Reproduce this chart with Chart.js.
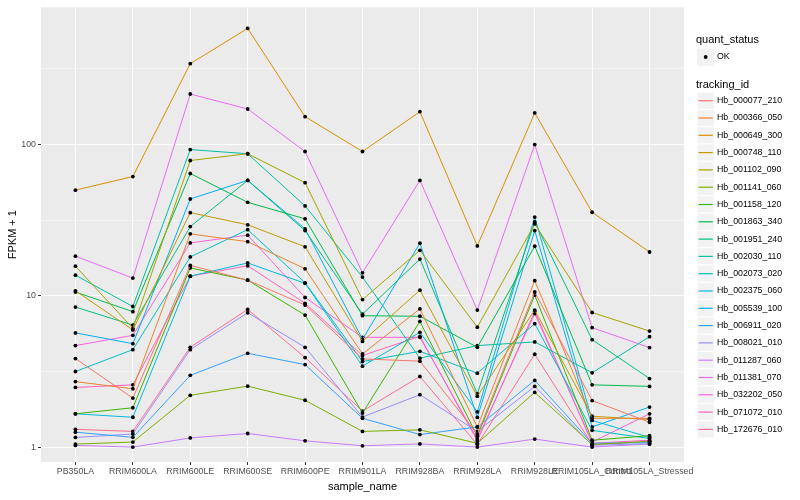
<!DOCTYPE html>
<html>
<head>
<meta charset="utf-8">
<script src="https://cdn.jsdelivr.net/npm/chart.js@4"></script>
<style>
  html, body { margin: 0; padding: 0; background: #fff; }
  #wrap { width: 800px; height: 500px; }
</style>
</head>
<body>
<div id="wrap"><canvas id="chart" width="800" height="500"></canvas></div>
<script>
const samples = ["PB350LA", "RRIM600LA", "RRIM600LE", "RRIM600SE", "RRIM600PE", "RRIM901LA",
  "RRIM928BA", "RRIM928LA", "RRIM928LE", "RRIM105LA_Control", "RRIM105LA_Stressed"];

const yTicks = [1, 10, 100];
const yMinorTicks = [3.1623, 31.623, 316.23];

// FPKM + 1 per tracking id, one value per sample
const hb_000077_210 = [3.85, 2.11, 15.9, 12.7, 8.7, 3.83, 3.7, 1.22, 10.6, 2.03, 1.46];
const hb_000366_050 = [2.71, 2.43, 25.7, 22.8, 15.1, 4.13, 8.2, 1.36, 12.6, 1.55, 1.55];
const hb_000649_300 = [50, 61.5, 343, 586, 153, 90, 165, 21.4, 162, 35.7, 19.5];
const hb_000748_110 = [10.8, 5.95, 35.5, 29.5, 21.1, 5.0, 10.9, 2.17, 8.05, 1.6, 1.52];
const hb_001102_090 = [15.7, 6.1, 78.5, 87, 56, 9.45, 20, 6.2, 29.9, 7.76, 5.85];
const hb_001141_060 = [1.047, 1.08, 2.2, 2.53, 2.04, 1.27, 1.3, 1.06, 2.3, 1.04, 1.09];
const hb_001158_120 = [1.66, 1.82, 15.3, 12.7, 7.46, 1.68, 6.77, 1.18, 10.1, 1.11, 1.19];
const hb_001863_340 = [10.6, 7.86, 64.4, 41.5, 32.3, 7.39, 7.33, 4.57, 21.3, 2.58, 2.52];
const hb_001951_240 = [8.43, 6.41, 28.7, 58, 27, 7.57, 17.5, 2.25, 30.8, 5.13, 2.84];
const hb_002030_110 = [13.7, 8.5, 92.7, 87, 39.3, 13.3, 3.87, 4.69, 4.96, 3.1, 5.37];
const hb_002073_020 = [3.16, 4.41, 18.1, 27.4, 12.2, 3.68, 4.3, 3.08, 6.55, 1.29, 1.14];
const hb_002375_060 = [1.66, 1.575, 13.5, 16.5, 12.1, 3.43, 5.74, 1.71, 33.2, 1.5, 1.16];
const hb_005539_100 = [5.69, 4.83, 43.7, 58, 27.7, 5.16, 22.3, 1.57, 27, 1.36, 1.84];
const hb_006911_020 = [1.255, 1.16, 2.98, 4.17, 3.51, 1.55, 1.21, 1.36, 2.76, 1.06, 1.07];
const hb_008021_010 = [1.158, 1.22, 4.41, 7.73, 4.57, 1.58, 2.22, 1.27, 2.52, 1.03, 1.05];
const hb_011287_060 = [1.026, 1.0, 1.15, 1.23, 1.1, 1.02, 1.05, 1.0, 1.13, 1.0, 1.05];
const hb_011381_070 = [18.3, 13.1, 216, 172, 90, 14.2, 58, 8.05, 100, 6.16, 4.55];
const hb_032202_050 = [4.69, 5.48, 22.4, 25.2, 9.75, 5.32, 5.32, 1.13, 7.64, 1.08, 1.66];
const hb_071072_010 = [2.48, 2.58, 13.5, 15.8, 8.93, 4.03, 5.4, 1.1, 7.9, 1.06, 1.11];
const hb_172676_010 = [1.31, 1.27, 4.57, 8.13, 3.91, 1.73, 2.93, 1.04, 4.11, 1.04, 1.09];

const trackingIds = ["Hb_000077_210", "Hb_000366_050", "Hb_000649_300", "Hb_000748_110",
  "Hb_001102_090", "Hb_001141_060", "Hb_001158_120", "Hb_001863_340", "Hb_001951_240",
  "Hb_002030_110", "Hb_002073_020", "Hb_002375_060", "Hb_005539_100", "Hb_006911_020",
  "Hb_008021_010", "Hb_011287_060", "Hb_011381_070", "Hb_032202_050", "Hb_071072_010",
  "Hb_172676_010"];

const series = [hb_000077_210, hb_000366_050, hb_000649_300, hb_000748_110, hb_001102_090,
  hb_001141_060, hb_001158_120, hb_001863_340, hb_001951_240, hb_002030_110, hb_002073_020,
  hb_002375_060, hb_005539_100, hb_006911_020, hb_008021_010, hb_011287_060, hb_011381_070,
  hb_032202_050, hb_071072_010, hb_172676_010];

// ggplot default hue palette, 20 levels
const colors = ["#F8766D", "#EA8331", "#D89000", "#C09B00", "#A3A500", "#7CAE00", "#39B600",
  "#00BB4E", "#00BF7D", "#00C1A3", "#00BFC4", "#00BAE0", "#00B0F6", "#35A2FF", "#9590FF",
  "#C77CFF", "#E76BF3", "#FA62DB", "#FF62BC", "#FF6C91"];

const FONT = '"Liberation Sans", Arial, sans-serif';

const datasets = series.map((vals, i) => ({
  label: trackingIds[i],
  data: vals.map((v, j) => ({ x: j, y: v })),
  borderColor: colors[i],
  borderWidth: 1,
  pointRadius: 1.9,
  pointBackgroundColor: "#000",
  pointBorderColor: "#000",
  pointBorderWidth: 0,
  tension: 0,
  fill: false,
}));

const panelBg = {
  id: "panelBg",
  beforeDraw(chart) {
    const { ctx, chartArea: a } = chart;
    ctx.save();
    ctx.fillStyle = "#EBEBEB";
    ctx.fillRect(a.left, a.top, a.right - a.left, a.bottom - a.top);
    ctx.restore();
  },
};

const ggLegend = {
  id: "ggLegend",
  afterDraw(chart) {
    const ctx = chart.ctx;
    const x0 = 697;
    const key = 17.3;
    ctx.save();
    ctx.textBaseline = "middle";
    ctx.fillStyle = "#000";
    ctx.font = "11px " + FONT;
    ctx.fillText("quant_status", 696, 40);

    ctx.fillStyle = "#F2F2F2";
    ctx.fillRect(x0, 48.5, key, key);
    ctx.fillStyle = "#000";
    ctx.beginPath();
    ctx.arc(x0 + key / 2, 57, 1.9, 0, Math.PI * 2);
    ctx.fill();
    ctx.font = "8.8px " + FONT;
    ctx.fillText("OK", 717, 57);

    ctx.font = "11px " + FONT;
    ctx.fillText("tracking_id", 696, 85);

    trackingIds.forEach((id, i) => {
      const yc = 100.7 + i * key;
      ctx.fillStyle = "#F2F2F2";
      ctx.fillRect(x0, yc - key / 2, key, key);
      ctx.strokeStyle = "#fff";
      ctx.lineWidth = 1;
      ctx.strokeRect(x0, yc - key / 2, key, key);
      ctx.strokeStyle = colors[i];
      ctx.lineWidth = 1.2;
      ctx.beginPath();
      ctx.moveTo(x0 + 1.5, yc);
      ctx.lineTo(x0 + key - 1.5, yc);
      ctx.stroke();
      ctx.fillStyle = "#000";
      ctx.font = "8.8px " + FONT;
      ctx.fillText(id, 717, yc);
    });
    ctx.restore();
  },
};

new Chart(document.getElementById("chart"), {
  type: "line",
  data: { datasets },
  plugins: [panelBg, ggLegend],
  options: {
    responsive: false,
    animation: false,
    layout: { padding: { top: 5, right: 116, left: 0, bottom: 0 } },
    plugins: { legend: { display: false }, tooltip: { enabled: false } },
    scales: {
      x: {
        type: "linear",
        min: -0.6,
        max: 10.6,
        afterBuildTicks: (scale) => {
          scale.ticks = samples.map((s, i) => ({ value: i }));
        },
        afterFit: (scale) => { scale.height = 38; },
        ticks: {
          autoSkip: false,
          maxRotation: 0,
          minRotation: 0,
          padding: 1,
          color: "#4D4D4D",
          font: { family: FONT, size: 8.8 },
          callback: (v) => samples[v],
        },
        grid: { color: "#fff", lineWidth: 1, tickLength: 3, tickColor: "#333" },
        border: { display: false },
        title: {
          display: true,
          text: "sample_name",
          color: "#000",
          font: { family: FONT, size: 11 },
          padding: { top: 0, bottom: 6 },
        },
      },
      y: {
        type: "logarithmic",
        min: 0.797,
        max: 809,
        afterBuildTicks: (scale) => {
          scale.ticks = yTicks.concat(yMinorTicks).sort((a, b) => a - b).map((v) => ({ value: v }));
        },
        afterFit: (scale) => { scale.width = 41; },
        ticks: {
          padding: 2,
          color: "#4D4D4D",
          font: { family: FONT, size: 8.8 },
          callback: (v) => (yTicks.includes(v) ? String(v) : ""),
        },
        grid: {
          color: "#fff",
          lineWidth: (c) => (c.tick && yTicks.includes(c.tick.value) ? 1 : 0.5),
          tickLength: 3,
          tickColor: (c) => (c.tick && yTicks.includes(c.tick.value) ? "#333" : "rgba(0,0,0,0)"),
        },
        border: { display: false },
        title: {
          display: true,
          text: "FPKM + 1",
          color: "#000",
          font: { family: FONT, size: 11 },
          padding: { top: 6, bottom: 0 },
        },
      },
    },
  },
});
</script>
</body>
</html>
